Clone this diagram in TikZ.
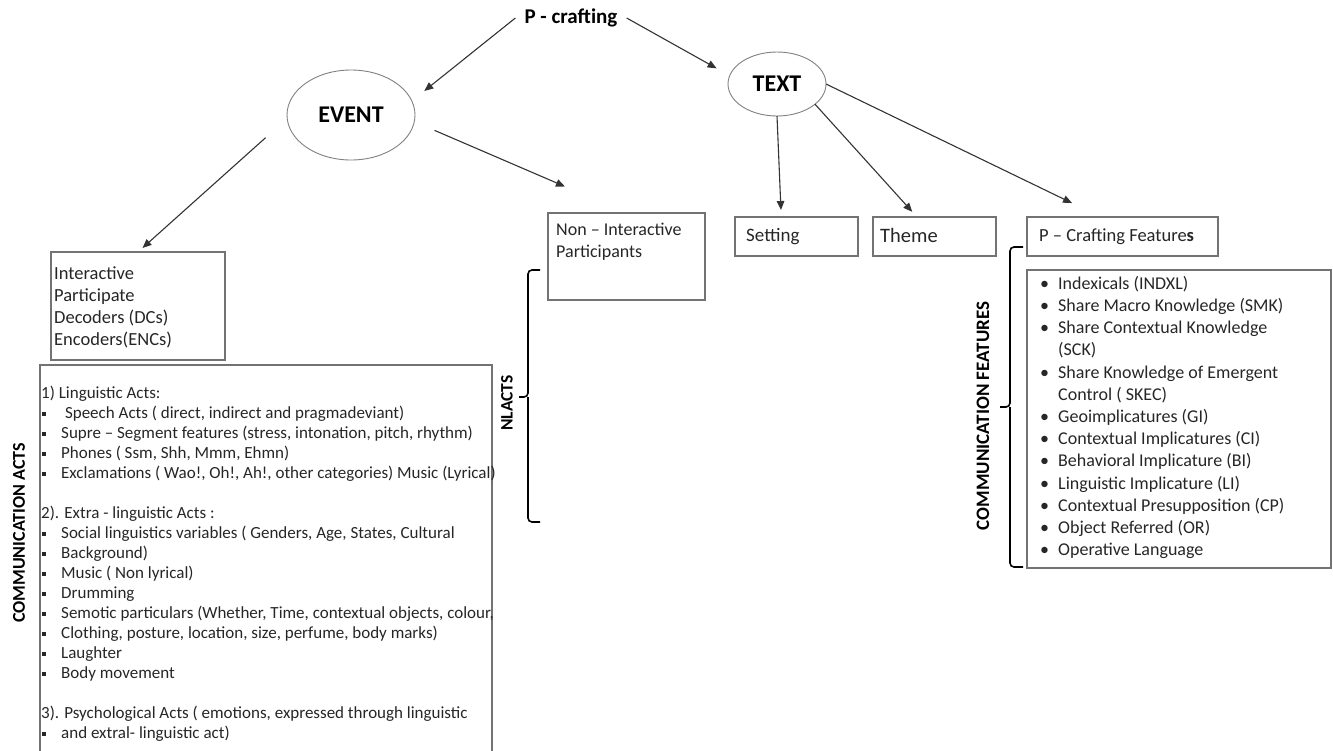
\documentclass[tikz,border=0pt]{standalone}
\usepackage{fontspec}
\setmainfont{Carlito}
\usetikzlibrary{arrows.meta,shapes.geometric}

\newcommand{\sqb}{\makebox[20pt][l]{\hspace{1pt}\rule[3pt]{3.6pt}{4pt}}}
\newcommand{\rdb}{\makebox[19pt][l]{\hspace{1pt}\textbullet}}

\begin{document}
\begin{tikzpicture}[x=1pt, y=-1pt, >={Triangle[length=9pt, width=7.5pt]},
		arr/.style={->, draw=black!80, line width=1.1pt},
		oval/.style={ellipse, draw=black!50, line width=0.9pt, inner sep=0pt, outer sep=0pt, font=\fontsize{24}{27}\selectfont\bfseries},
		box/.style={draw=black!55, line width=1.1pt, inner sep=0pt, outer sep=0pt, anchor=north west},
		txt/.style={inner sep=0pt, align=left, text=black!85},
		brk/.style={line width=1.6pt, rounded corners=4pt}]
	\useasboundingbox (0, 0) rectangle (1333, 750);
	\clip (0, 0) rectangle (1333, 750);

	\node [inner xsep=9pt, inner ysep=2pt, font=\fontsize{21}{24}\selectfont\bfseries] (pcraft) at (571, 18) {P - crafting};
	\node [oval, minimum width=128pt, minimum height=90pt] (event) at (351, 115) {EVENT};
	\node [oval, minimum width=98pt, minimum height=64pt] (text) at (777, 84) {TEXT};

	% boxes
	\node [box, minimum width=174pt, minimum height=108pt] (inter) at (51, 252) {};
	\node [box, minimum width=157pt, minimum height=87pt] (nonint) at (548, 213) {};
	\node [box, minimum width=123pt, minimum height=39pt] (setting) at (735, 217) {};
	\node [box, minimum width=123pt, minimum height=39pt] (theme) at (873, 217) {};
	\node [box, minimum width=191pt, minimum height=39pt] (pcf) at (1027, 217) {};
	\node [box, minimum width=304pt, minimum height=298pt] (feat) at (1027, 270) {};
	\node [box, minimum width=452pt, minimum height=400pt] (acts) at (40, 365) {};

	% arrows
	\draw [arr, shorten >=16pt] (pcraft.west) -- (event.13);
	\draw [arr, shorten >=15pt] (pcraft.east) -- (text.170);
	\draw [arr, shorten <=29pt, shorten >=6pt] (event.183) -- (inter.north);
	\draw [arr, shorten <=22pt, shorten >=67pt] (event.354) -- (nonint.north);
	\draw [arr, shorten >=7pt] (text.south) -- (setting.128);
	\draw [arr, shorten >=7pt] (text.332) -- (theme.132);
	\draw [arr, shorten >=32pt] (text.east) -- (pcf.138);

	% texts in the boxes
	\node [txt, anchor=north west, font=\fontsize{18.5}{21.7}\selectfont] (intertxt) at (54, 267) {Interactive\\Participate\\Decoders (DCs)\\Encoders(ENCs)};
	\node [txt, anchor=north west, font=\fontsize{18}{22}\selectfont] (noninttxt) at (556, 223) {Non -- Interactive\\Participants};
	\node [txt, anchor=west, font=\fontsize{19}{22}\selectfont] (settingtxt) at (746, 237) {Setting};
	\node [txt, anchor=west, font=\fontsize{20.5}{24}\selectfont] (themetxt) at (880, 235) {Theme};
	\node [txt, anchor=west, font=\fontsize{18.5}{22}\selectfont] (pcftxt) at (1039, 237) {P -- Crafting Feature\textbf{s}};

	\node [txt, anchor=north west, font=\fontsize{18}{22.2}\selectfont] (feattxt) at (1039, 276) {%
		\rdb Indexicals (INDXL)\\
		\rdb Share Macro Knowledge (SMK)\\
		\rdb Share Contextual Knowledge\\
		\hspace*{19pt}(SCK)\\
		\rdb Share Knowledge of Emergent\\
		\hspace*{19pt}Control ( SKEC)\\
		\rdb Geoimplicatures (GI)\\
		\rdb Contextual Implicatures (CI)\\
		\rdb Behavioral Implicature (BI)\\
		\rdb Linguistic Implicature (LI)\\
		\rdb Contextual Presupposition (CP)\\
		\rdb Object Referred (OR)\\
		\rdb Operative Language};

	\node [txt, anchor=north west, font=\fontsize{17}{20}\selectfont] (actstxt) at (41, 386) {%
		1) Linguistic Acts:\\
		\sqb\ Speech Acts ( direct, indirect and pragmadeviant)\\
		\sqb Supre -- Segment features (stress, intonation, pitch, rhythm)\\
		\sqb Phones ( Ssm, Shh, Mmm, Ehmn)\\
		\sqb Exclamations ( Wao!, Oh!, Ah!, other categories) Music (Lyrical)\\[20pt]
		2). Extra - linguistic Acts :\\
		\sqb Social linguistics variables ( Genders, Age, States, Cultural\\
		\sqb Background)\\
		\sqb Music ( Non lyrical)\\
		\sqb Drumming\\
		\sqb Semotic particulars (Whether, Time, contextual objects, colour,\\
		\sqb Clothing, posture, location, size, perfume, body marks)\\
		\sqb Laughter\\
		\sqb Body movement\\[20pt]
		3). Psychological Acts ( emotions, expressed through linguistic\\
		\sqb and extral- linguistic act)};

	% brackets and side labels
	\draw [brk] (540, 270) -| (528, 397) -- (519, 397);
	\draw [brk] (540, 522) -| (528, 397);
	\draw [brk] (1023, 247) -| (1010, 407) -- (1000, 407);
	\draw [brk] (1023, 567) -| (1010, 407);

	\node [rotate=90, font=\fontsize{17.5}{20}\selectfont\bfseries] (nlacts) at (507, 403) {NLACTS};
	\node [rotate=90, font=\fontsize{19}{22}\selectfont\bfseries] (featlbl) at (983, 416) {COMMUNICATION FEATURES};
	\node [rotate=90, font=\fontsize{18}{21}\selectfont\bfseries] (actslbl) at (19, 533) {COMMUNICATION ACTS};
\end{tikzpicture}
\end{document}
